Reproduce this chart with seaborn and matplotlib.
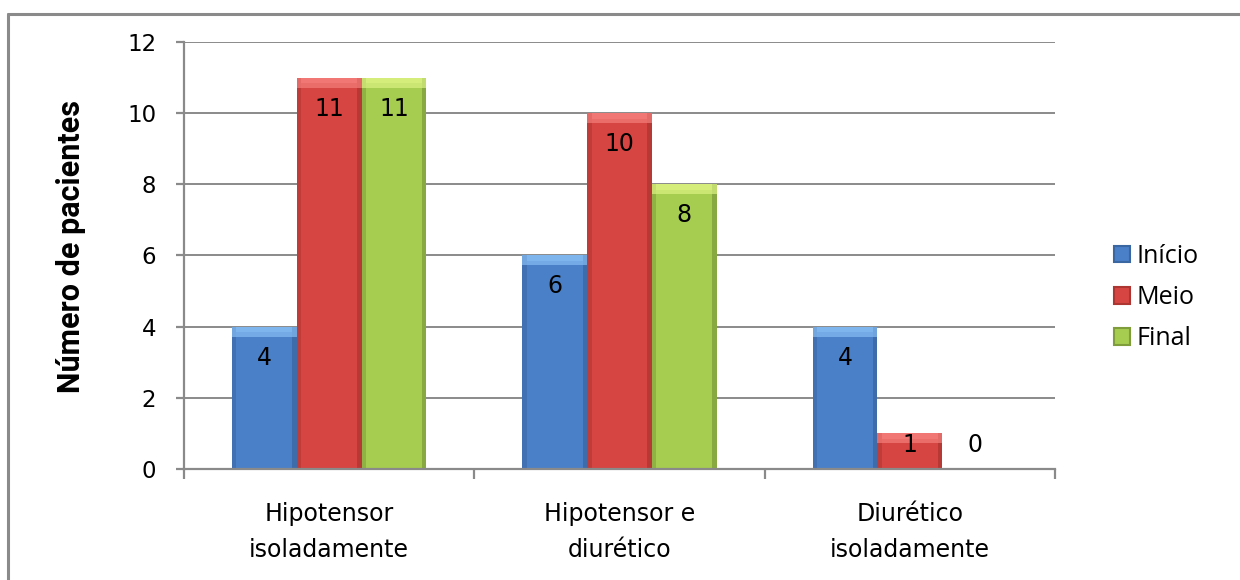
import matplotlib
matplotlib.use("Agg")
import matplotlib.pyplot as plt
from matplotlib.patches import Rectangle
from matplotlib.lines import Line2D
import seaborn as sns
import pandas as pd
import numpy as np

# Data
categories = ["Hipotensor\nisoladamente", "Hipotensor e\ndiurético", "Diurético\nisoladamente"]
series = ["Início", "Meio", "Final"]
inicio = [4, 6, 4]
meio = [11, 10, 1]
final = [11, 8, 0]
y_ticks = [0, 2, 4, 6, 8, 10, 12]

base_colors = {"Início": "#4a80c8", "Meio": "#d64542", "Final": "#a6cd50"}
light_colors = {"Início": "#86bdf2", "Meio": "#f57f7c", "Final": "#dcf282"}
dark_colors = {"Início": "#3a66a2", "Meio": "#ad3532", "Final": "#7f9d3b"}

df = pd.DataFrame({
    "categoria": np.repeat(categories, 3),
    "serie": series * 3,
    "valor": [v for trio in zip(inicio, meio, final) for v in trio],
})

sns.set_theme(style="white")
plt.rcParams["font.family"] = ["DejaVu Sans"]
plt.rcParams["text.color"] = "black"
plt.rcParams["xtick.color"] = "black"
plt.rcParams["ytick.color"] = "black"
plt.rcParams["axes.labelcolor"] = "black"

fig = plt.figure(figsize=(12.4, 5.8), dpi=100)
ax = fig.add_axes([0.1484, 0.1914, 0.7024, 0.7362])

sns.barplot(data=df, x="categoria", y="valor", hue="serie", order=categories,
            hue_order=series, palette=base_colors, width=0.67, saturation=1,
            edgecolor="none", linewidth=0, ax=ax, legend=False)

ax.set_ylim(0, 12)
ax.set_xlim(-0.5, 2.5)
ax.set_yticks(y_ticks)
ax.yaxis.grid(True, color="#8a8a8a", linewidth=1.4)
ax.set_axisbelow(True)

# Bevel effect and value labels on every bar
values_by_series = {"Início": inicio, "Meio": meio, "Final": final}
for s, container in zip(series, ax.containers):
    for patch, v in zip(container.patches, values_by_series[s]):
        x0, w, h = patch.get_x(), patch.get_width(), patch.get_height()
        if h > 0:
            side = w * 0.07
            cap = min(0.28, h * 0.3)
            ax.add_patch(Rectangle((x0, 0), side, h, color=dark_colors[s], alpha=0.55, lw=0, zorder=2.1))
            ax.add_patch(Rectangle((x0 + w - side, 0), side, h, color=dark_colors[s], alpha=0.75, lw=0, zorder=2.1))
            ax.add_patch(Rectangle((x0, h - cap), w, cap, color=light_colors[s], alpha=0.7, lw=0, zorder=2.2))
            ax.add_patch(Rectangle((x0 + side, h - cap * 0.55), w - 2 * side, cap * 0.55,
                                   color=light_colors[s], alpha=0.6, lw=0, zorder=2.3))
        ax.text(x0 + w / 2, max(v - 0.87, 0.68), f"{v}", ha="center", va="center",
                fontsize=17, color="black", zorder=5)

# Axes styling
for side_name in ["top", "right"]:
    ax.spines[side_name].set_visible(False)
for side_name in ["left", "bottom"]:
    ax.spines[side_name].set_color("#8a8a8a")
    ax.spines[side_name].set_linewidth(1.6)

ax.tick_params(axis="y", which="major", length=6, width=1.6, color="#8a8a8a",
               labelsize=16.5, pad=14, left=True, labelcolor="black")
ax.set_xticks(range(len(categories)))
ax.set_xticklabels(categories, fontsize=17, linespacing=1.6)
ax.set_xticks([-0.5, 0.5, 1.5, 2.5], minor=True)
ax.tick_params(axis="x", which="major", length=0, pad=24, labelcolor="black")
ax.tick_params(axis="x", which="minor", length=7, width=1.6, color="#8a8a8a", bottom=True)
ax.set_xlabel("")
ax.set_ylabel("Número de pacientes", fontsize=22, fontweight="bold",
              family=["Roboto", "DejaVu Sans"], color="black")
ax.yaxis.set_label_coords(-0.113, 0.52)

# Legend
handles = [Rectangle((0, 0), 1, 1, facecolor=base_colors[s], edgecolor=dark_colors[s], lw=1.5)
           for s in series]
leg = fig.legend(handles, series, loc="center left", bbox_to_anchor=(0.88, 0.487),
                 frameon=False, handlelength=0.66, handleheight=0.66,
                 handletextpad=0.25, labelspacing=0.65,
                 prop={"family": ["Open Sans", "DejaVu Sans"], "size": 18})
for t in leg.get_texts():
    t.set_color("black")

# Outer chart border
fig.add_artist(Line2D([8 / 1240, 8 / 1240], [1 - 14 / 580, 0], color="#8a8a8a", lw=2.2,
                      transform=fig.transFigure))
fig.add_artist(Line2D([8 / 1240, 1], [1 - 14 / 580, 1 - 14 / 580], color="#8a8a8a", lw=2.2,
                      transform=fig.transFigure))

fig.savefig("out.png", dpi=100)
